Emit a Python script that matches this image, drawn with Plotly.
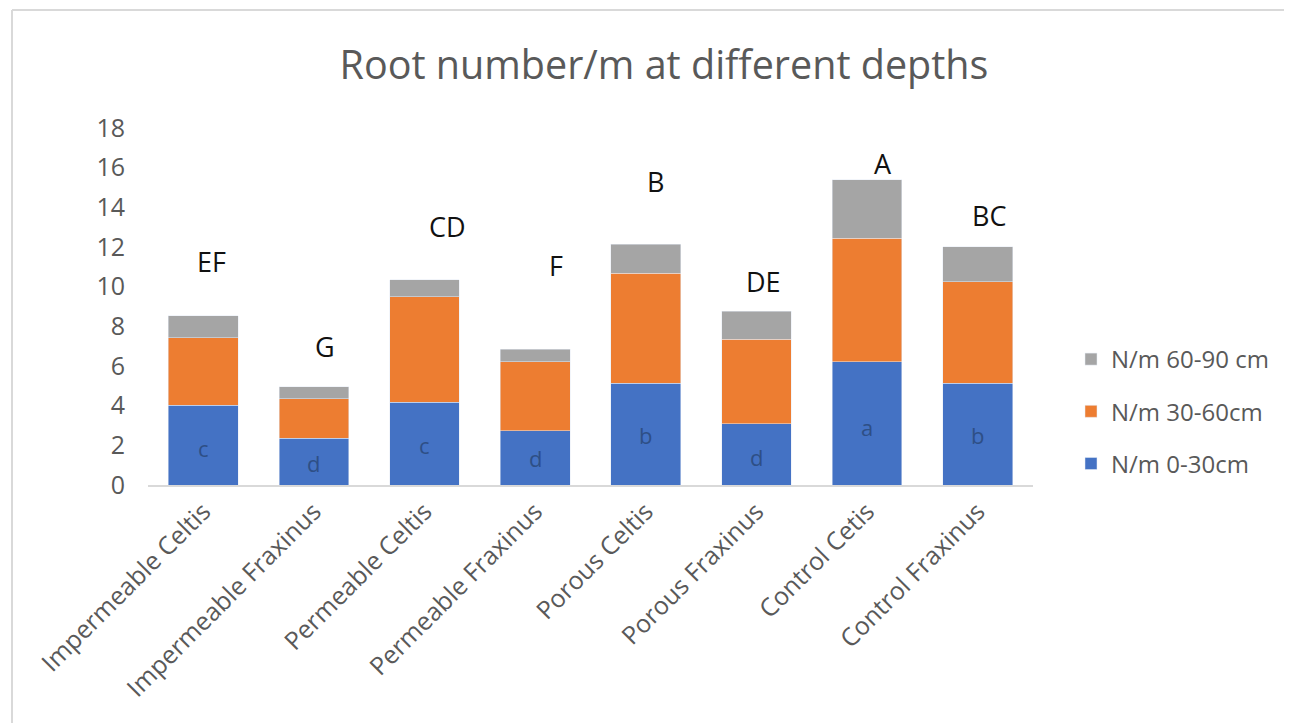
import plotly.graph_objects as go

categories = ["Impermeable Celtis", "Impermeable Fraxinus", "Permeable Celtis",
              "Permeable Fraxinus", "Porous Celtis", "Porous Fraxinus",
              "Control Cetis", "Control Fraxinus"]
n_0_30 = [4.03, 2.35, 4.17, 2.74, 5.13, 3.08, 6.22, 5.13]
n_30_60 = [3.40, 2.00, 5.33, 3.48, 5.55, 4.27, 6.22, 5.12]
n_60_90 = [1.11, 0.61, 0.84, 0.62, 1.46, 1.42, 2.94, 1.77]
group_letters = ["EF", "G", "CD", "F", "B", "DE", "A", "BC"]
group_letter_y = [11.26, 6.97, 13.02, 11.09, 15.3, 10.25, 16.22, 13.6]
group_letter_dx = [8, 11, 23, 21, 10, 7, 16, 11]
inner_letters = ["c", "d", "c", "d", "b", "d", "a", "b"]
inner_letter_y = [1.87, 1.1, 2.0, 1.35, 2.5, 1.4, 2.9, 2.5]
y_ticks = [0, 2, 4, 6, 8, 10, 12, 14, 16, 18]

BLUE, ORANGE, GRAY = "#4472C4", "#ED7D31", "#A5A5A5"
TXT = "#595959"
FONT = "Open Sans"

fig = go.Figure()
fig.add_trace(go.Bar(x=categories, y=n_0_30, name="N/m 0-30cm", marker_color=BLUE,
                     legendgroup="a", legendrank=3))
fig.add_trace(go.Bar(x=categories, y=n_30_60, name="N/m 30-60cm", marker_color=ORANGE,
                     legendgroup="b", legendrank=2))
fig.add_trace(go.Bar(x=categories, y=n_60_90, name="N/m 60-90 cm", marker_color=GRAY,
                     legendgroup="c", legendrank=1))

annotations = []
for c, t, y, dx in zip(categories, group_letters, group_letter_y, group_letter_dx):
    annotations.append(dict(x=c, y=y, text=t, showarrow=False, xshift=dx,
                            font=dict(family=FONT, size=27, color="#111111")))
for c, t, y in zip(categories, inner_letters, inner_letter_y):
    annotations.append(dict(x=c, y=y, text=t, showarrow=False,
                            font=dict(family=FONT, size=22, color="#2E4F86")))

# page has an 8px body margin: figure origin sits at (8, 8)
OFF = 8
W, H = 1292 - OFF, 723 - OFF
L, T = 148 - OFF, 128 - OFF
pw, ph = 885, 357
R, B = W - L - pw, H - T - ph

def px_x(p):
    return (p - OFF - L) / pw

def px_y(p):
    return (H - B - (p - OFF)) / ph

shapes = [
    dict(type="line", xref="paper", yref="paper", x0=px_x(12), x1=px_x(1300),
         y0=px_y(10), y1=px_y(10), line=dict(color="#D9D9D9", width=2)),
    dict(type="line", xref="paper", yref="paper", x0=px_x(12), x1=px_x(12),
         y0=px_y(10), y1=px_y(730), line=dict(color="#D9D9D9", width=2)),
]

fig.update_layout(
    width=W, height=H,
    margin=dict(l=L, r=R, t=T, b=B),
    barmode="stack", bargap=0.37,
    paper_bgcolor="white", plot_bgcolor="white",
    title=dict(text="Root number/m at different depths", x=(664 - OFF) / W,
               xanchor="center", y=1 - (65 - OFF) / H, yanchor="middle",
               font=dict(family=FONT, size=39.5, color=TXT)),
    font=dict(family=FONT, color=TXT),
    legend=dict(x=px_x(1071), y=px_y(337), xanchor="left", yanchor="top",
                traceorder="grouped", tracegroupgap=18,
                font=dict(family=FONT, size=24, color=TXT), itemwidth=30),
    annotations=annotations,
    shapes=shapes,
)
fig.update_xaxes(showline=True, linecolor="#D9D9D9", linewidth=2, tickangle=-45,
                 tickfont=dict(family=FONT, size=25, color=TXT), showgrid=False,
                 ticks="", automargin=False)
fig.update_yaxes(range=[0, 18], tickvals=y_ticks, showgrid=False, zeroline=False,
                 showline=False, ticks="", ticklabelstandoff=22, automargin=False,
                 tickfont=dict(family=FONT, size=25, color=TXT))

fig.write_html("out.html")
